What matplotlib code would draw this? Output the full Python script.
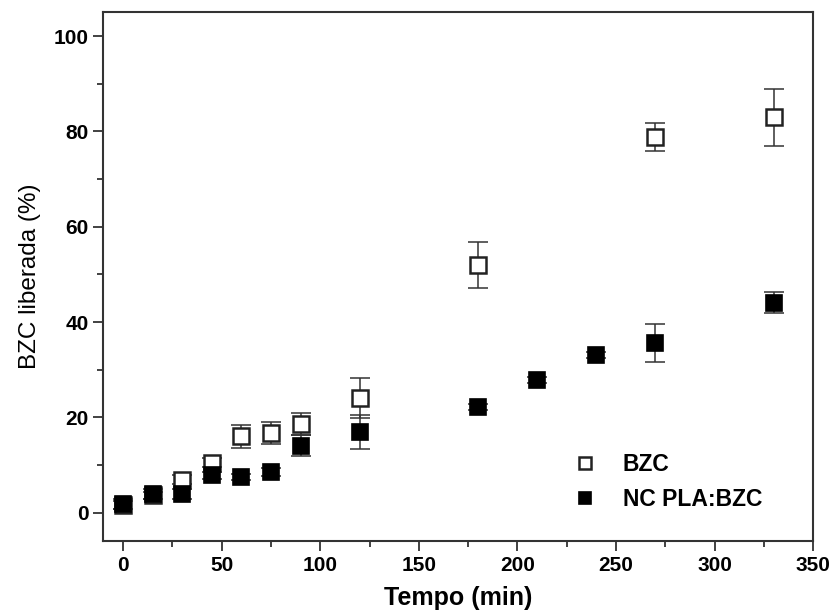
import matplotlib.pyplot as plt
from matplotlib.ticker import MultipleLocator

plt.rcParams["font.family"] = ["Liberation Sans", "DejaVu Sans"]

# release time (min)
t_bzc = [0, 15, 30, 45, 60, 75, 90, 120, 180, 270, 330]
bzc = [1.6, 3.6, 6.9, 10.5, 16.0, 16.8, 18.6, 24.1, 52.0, 78.8, 83.0]
bzc_err = [0.8, 0.8, 1.0, 1.0, 2.4, 2.3, 2.4, 4.2, 4.8, 3.0, 6.0]

t_nc = [0, 15, 30, 45, 60, 75, 90, 120, 180, 210, 240, 270, 330]
nc = [1.8, 3.9, 3.9, 7.8, 7.5, 8.5, 14.0, 16.9, 22.2, 27.8, 33.1, 35.6, 44.0]
nc_err = [1.0, 1.0, 1.0, 0.8, 0.6, 0.8, 2.2, 3.6, 0.6, 0.6, 0.6, 4.0, 2.2]

fig = plt.figure(figsize=(8.31, 6.15), dpi=100)
ax = fig.add_axes([0.1245, 0.120, 0.854, 0.860])

err_style = dict(fmt="none", ecolor="#333333", elinewidth=1.1, capsize=7.5, capthick=1.1)

ax.errorbar(t_bzc, bzc, yerr=bzc_err, zorder=2, **err_style)
ax.plot(t_bzc, bzc, "s", ms=12, mfc="white", mec="#222222", mew=1.8,
        ls="none", label="BZC", zorder=3)
ax.errorbar(t_nc, nc, yerr=nc_err, zorder=4, **err_style)
ax.plot(t_nc, nc, "s", ms=12, mfc="black", mec="black", mew=1.2,
        ls="none", label="NC PLA:BZC", zorder=5)

ax.set_xlim(-10, 350)
ax.set_ylim(-6, 105)
ax.xaxis.set_major_locator(MultipleLocator(50))
ax.xaxis.set_minor_locator(MultipleLocator(25))
ax.yaxis.set_major_locator(MultipleLocator(20))
ax.yaxis.set_minor_locator(MultipleLocator(10))

for s in ax.spines.values():
    s.set_linewidth(1.5)
    s.set_color("#333333")
ax.tick_params(which="both", direction="out", top=False, right=False,
               color="#333333", width=1.3)
ax.tick_params(which="major", length=7, labelsize=15)
ax.tick_params(which="minor", length=4)
for lbl in ax.get_xticklabels() + ax.get_yticklabels():
    lbl.set_fontweight("bold")

ax.set_xlabel("Tempo (min)", fontsize=18, fontweight="bold", labelpad=8)
ax.set_ylabel("BZC liberada (%)", fontsize=17.5, labelpad=9)

ax.legend(loc="upper left", bbox_to_anchor=(0.625, 0.205), frameon=False,
          prop={"size": 16.5, "weight": "bold"}, handletextpad=0.9,
          labelspacing=0.5, markerscale=0.75, handlelength=1.5)

fig.savefig("out.png", dpi=100)
